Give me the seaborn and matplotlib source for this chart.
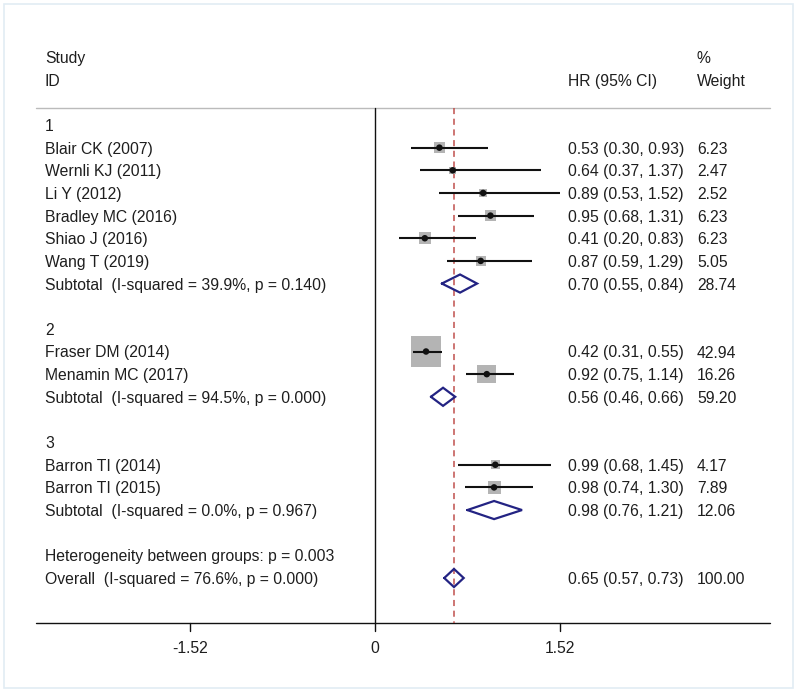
import matplotlib
matplotlib.use("Agg")
import matplotlib.pyplot as plt
import seaborn as sns
import pandas as pd
import numpy as np
from matplotlib.patches import Rectangle

sns.set_theme(style="white")
plt.rcParams['font.family'] = ['Liberation Sans', 'DejaVu Sans']

# ---- data ----
studies = ["Blair CK (2007)", "Wernli KJ (2011)", "Li Y (2012)", "Bradley MC (2016)",
           "Shiao J (2016)", "Wang T (2019)", "Fraser DM (2014)", "Menamin MC (2017)",
           "Barron TI (2014)", "Barron TI (2015)"]
study_group = [1, 1, 1, 1, 1, 1, 2, 2, 3, 3]
hr = [0.53, 0.64, 0.89, 0.95, 0.41, 0.87, 0.42, 0.92, 0.99, 0.98]
lci = [0.30, 0.37, 0.53, 0.68, 0.20, 0.59, 0.31, 0.75, 0.68, 0.74]
uci = [0.93, 1.37, 1.52, 1.31, 0.83, 1.29, 0.55, 1.14, 1.45, 1.30]
weight = [6.23, 2.47, 2.52, 6.23, 6.23, 5.05, 42.94, 16.26, 4.17, 7.89]

groups = [1, 2, 3]
sub_label = ["Subtotal  (I-squared = 39.9%, p = 0.140)",
             "Subtotal  (I-squared = 94.5%, p = 0.000)",
             "Subtotal  (I-squared = 0.0%, p = 0.967)"]
sub_hr = [0.70, 0.56, 0.98]
sub_lci = [0.55, 0.46, 0.76]
sub_uci = [0.84, 0.66, 1.21]
sub_w = [28.74, 59.20, 12.06]

het_label = "Heterogeneity between groups: p = 0.003"
overall_label = "Overall  (I-squared = 76.6%, p = 0.000)"
overall = (0.65, 0.57, 0.73, 100.00)

xticks = [-1.52, 0, 1.52]
xticklabels = ["-1.52", "0", "1.52"]

# ---- build rows ----
rows = []  # (kind, label, hr, lci, uci, w)
for gi, g in enumerate(groups):
    rows.append(("head", str(g), None, None, None, None))
    for s, sg, h, l, u, w in zip(studies, study_group, hr, lci, uci, weight):
        if sg == g:
            rows.append(("study", s, h, l, u, w))
    rows.append(("sub", sub_label[gi], sub_hr[gi], sub_lci[gi], sub_uci[gi], sub_w[gi]))
    rows.append(("blank", "", None, None, None, None))
rows.append(("head", het_label, None, None, None, None))
rows.append(("sub", overall_label, *overall))

df = pd.DataFrame(rows, columns=["kind", "label", "hr", "lci", "uci", "w"])
df["row"] = np.arange(len(df))

# ---- figure ----
fig = plt.figure(figsize=(8, 6.93), dpi=100)
ax = fig.add_axes([0, 0, 1, 1])
x0px, ppu = 375.0, 121.5
y0px, ppr = 125.0, 22.65
ax.set_xlim((0 - x0px) / ppu, (800 - x0px) / ppu)
ax.set_ylim((693 - y0px) / ppr, (0 - y0px) / ppr)
ax.axis("off")

def px2x(p):
    return (p - x0px) / ppu

FS = 11.3
TC = "#1e1e1e"
top_row = -0.75
axis_row = 22.0

# header
ax.text(px2x(45), -3, "Study", fontsize=FS, color=TC, va="center_baseline")
ax.text(px2x(45), -2, "ID", fontsize=FS, color=TC, va="center_baseline")
ax.text(px2x(568), -2, "HR (95% CI)", fontsize=FS, color=TC, va="center_baseline")
ax.text(px2x(697), -3, "%", fontsize=FS, color=TC, va="center_baseline")
ax.text(px2x(697), -2, "Weight", fontsize=FS, color=TC, va="center_baseline")

# lines
ax.plot([px2x(36), px2x(770)], [top_row, top_row], color="#bbbbbb", lw=1)
ax.plot([px2x(36), px2x(770)], [axis_row, axis_row], color="#111111", lw=1)
ax.plot([0, 0], [top_row, axis_row], color="#111111", lw=1)
ax.plot([overall[0], overall[0]], [top_row, axis_row], color="#c0504d", lw=1.1,
        dashes=(4, 3))
for t, tl in zip(xticks, xticklabels):
    ax.plot([t, t], [axis_row, axis_row + 0.35], color="#111111", lw=1)
    ax.text(t, axis_row + 1.05, tl, fontsize=FS, color=TC, ha="center", va="center_baseline")

# study squares (area proportional to weight)
st = df[df.kind == "study"]
sns.scatterplot(data=st, x="hr", y="row", size="w", sizes=(0, 11.1 * 100),
                size_norm=(0, 100), marker="s", color="#b4b4b4", edgecolor="none",
                legend=False, ax=ax, zorder=2)
ax.hlines(st["row"], st["lci"], st["uci"], color="#111111", lw=1.5, zorder=3)
sns.scatterplot(data=st, x="hr", y="row", s=22, color="#111111", edgecolor="none",
                legend=False, ax=ax, zorder=4)

# diamonds
sb = df[df.kind == "sub"]
hh = 0.4
for _, r in sb.iterrows():
    ax.plot([r.lci, r.hr, r.uci, r.hr, r.lci], [r.row, r.row - hh, r.row, r.row + hh, r.row],
            color="#232383", lw=1.6, zorder=5, solid_joinstyle="miter")

# labels and value columns
for _, r in df.iterrows():
    if r.label:
        ax.text(px2x(45), r.row, r.label, fontsize=FS, color=TC, va="center_baseline")
    if r.kind in ("study", "sub"):
        ax.text(px2x(568), r.row, f"{r.hr:.2f} ({r.lci:.2f}, {r.uci:.2f})",
                fontsize=FS, color=TC, va="center_baseline")
        ax.text(px2x(697), r.row, f"{r.w:.2f}", fontsize=FS, color=TC, va="center_baseline")

# outer frame
fig.patches.append(Rectangle((4 / 800, 1 - 688 / 693), 789 / 800, 684 / 693,
                             transform=fig.transFigure, fill=False,
                             edgecolor="#e2ecf4", lw=1.2))

fig.savefig("out.png", dpi=100)
